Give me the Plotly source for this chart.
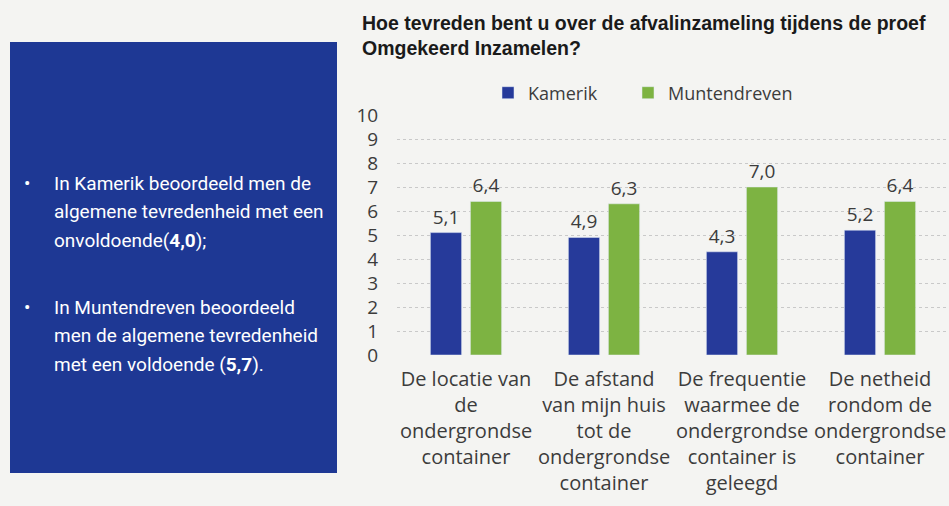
import plotly.graph_objects as go

categories = [
    "De locatie van<br>de<br>ondergrondse<br>container",
    "De afstand<br>van mijn huis<br>tot de<br>ondergrondse<br>container",
    "De frequentie<br>waarmee de<br>ondergrondse<br>container is<br>geleegd",
    "De netheid<br>rondom de<br>ondergrondse<br>container",
]
kamerik = [5.1, 4.9, 4.3, 5.2]
muntendreven = [6.4, 6.3, 7.0, 6.4]
yticks = list(range(0, 11))

bullet_lines = [
    ["In Kamerik beoordeeld men de", "algemene tevredenheid met een", "onvoldoende(<b>4,0</b>);"],
    ["In Muntendreven beoordeeld", "men de algemene tevredenheid", "met een voldoende (<b>5,7</b>)."],
]

W, H = 949, 506
BLUE = "#263a9a"
GREEN = "#7db342"
TXT = "#3c3c3c"

def fmt(v):
    return f"{v:.1f}".replace(".", ",")

fig = go.Figure()
fig.add_trace(go.Bar(x=categories, y=kamerik, name="Kamerik", marker_color=BLUE,
                     text=[fmt(v) for v in kamerik], textposition="outside", legend="legend",
                     textfont=dict(size=19, color=TXT, family="Open Sans"), cliponaxis=False))
fig.add_trace(go.Bar(x=categories, y=muntendreven, name="Muntendreven", marker_color=GREEN,
                     text=[fmt(v) for v in muntendreven], textposition="outside", legend="legend2",
                     textfont=dict(size=19, color=TXT, family="Open Sans"), cliponaxis=False))

x0, x1 = 397 / W, 1.0
y0, y1 = (H - 355) / H, (H - 115) / H

leg_common = dict(orientation="h", yanchor="middle", xanchor="left", y=(H - 93) / H,
                  font=dict(size=18, color=TXT), bgcolor="rgba(0,0,0,0)", itemwidth=30)

fig.update_layout(
    width=W, height=H,
    margin=dict(l=0, r=0, t=0, b=0, autoexpand=False),
    paper_bgcolor="#f4f4f2", plot_bgcolor="rgba(0,0,0,0)",
    barmode="group", bargap=0.42, bargroupgap=0.22,
    font=dict(family="Open Sans", color=TXT, size=18),
    showlegend=True,
    legend=dict(x=488 / W, **leg_common),
    legend2=dict(x=628 / W, **leg_common),
    xaxis=dict(domain=[x0, x1], showgrid=False, zeroline=False, showline=False, automargin=False,
               tickfont=dict(size=20, color=TXT), ticks="outside", ticklen=6, tickcolor="rgba(0,0,0,0)"),
    yaxis=dict(domain=[y0, y1], range=[0, 10], tickvals=yticks, showgrid=True, automargin=False,
               gridcolor="#c9c9c9", griddash="dot", gridwidth=1, zeroline=False, showline=False,
               tickfont=dict(size=19, color=TXT), ticks="outside", ticklen=14,
               tickcolor="rgba(0,0,0,0)"),
)

# title
fig.add_annotation(text="<b>Hoe tevreden bent u over de afvalinzameling tijdens de proef<br>Omgekeerd Inzamelen?</b>",
                   xref="paper", yref="paper", x=360 / W, y=(H - 10) / H, xanchor="left", yanchor="top",
                   align="left", showarrow=False,
                   font=dict(family="Liberation Sans, Arial", size=19.5, color="#1a1a1a"))

# left blue box
fig.add_shape(type="rect", xref="paper", yref="paper", x0=10 / W, x1=337 / W,
              y0=(H - 473) / H, y1=(H - 42) / H, fillcolor="#1e3894", line_width=0, layer="below")

starts = [183, 307]
for lines, ys in zip(bullet_lines, starts):
    fig.add_annotation(text="•", xref="paper", yref="paper", x=27 / W, y=(H - ys) / H,
                       xanchor="center", yanchor="middle", showarrow=False,
                       font=dict(family="Roboto", size=19, color="white"))
    for i, ln in enumerate(lines):
        fig.add_annotation(text=ln, xref="paper", yref="paper", x=52 / W, y=(H - (ys + i * 28.5)) / H,
                           xanchor="left", yanchor="middle", showarrow=False,
                           font=dict(family="Roboto", size=19, color="white"))

fig.write_html("out.html", config={"displayModeBar": False},
               post_script="document.body.style.margin='0';")
